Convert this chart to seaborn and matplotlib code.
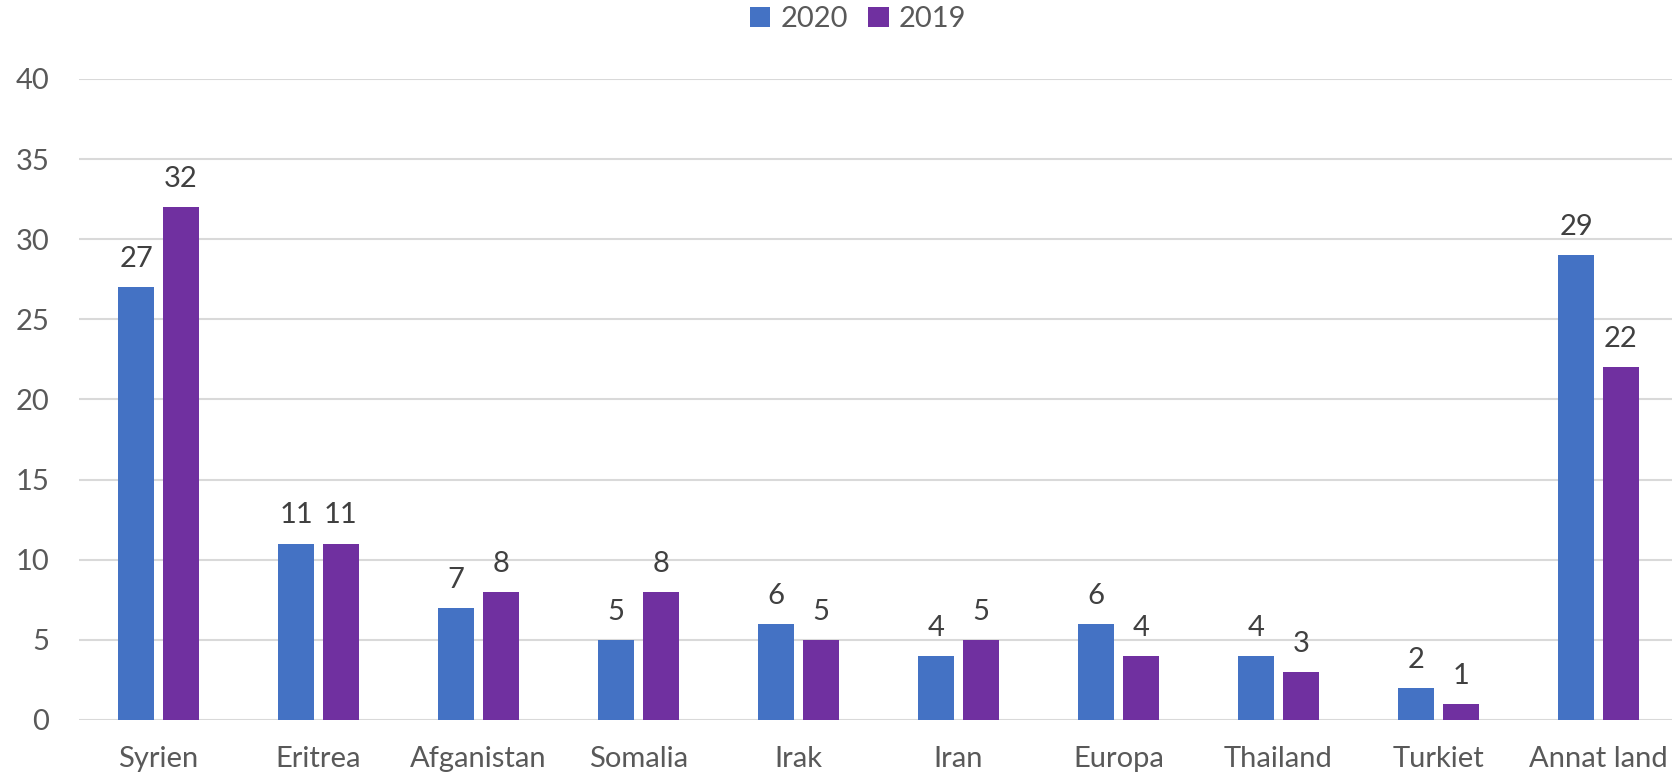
import matplotlib
matplotlib.use("Agg")
import matplotlib.pyplot as plt
import seaborn as sns
import pandas as pd

categories = ["Syrien", "Eritrea", "Afganistan", "Somalia", "Irak", "Iran",
              "Europa", "Thailand", "Turkiet", "Annat land"]
values_2020 = [27, 11, 7, 5, 6, 4, 6, 4, 2, 29]
values_2019 = [32, 11, 8, 8, 5, 5, 4, 3, 1, 22]
series = ["2020", "2019"]
y_ticks = [0, 5, 10, 15, 20, 25, 30, 35, 40]

sns.set_theme(style="white")
plt.rcParams['font.family'] = ['Lato', 'DejaVu Sans']

df = pd.DataFrame({
    "Land": categories * 2,
    "År": [series[0]] * len(categories) + [series[1]] * len(categories),
    "Antal": values_2020 + values_2019,
})

fig = plt.figure(figsize=(16.72, 7.77), dpi=100)
ax = fig.add_axes([78.5 / 1672, 1 - 720 / 777, 1 - 78.5 / 1672, (720 - 79) / 777])

sns.barplot(data=df, x="Land", y="Antal", hue="År", hue_order=series,
            order=categories, palette=["#4472C4", "#7030A0"],
            width=0.56, gap=0.196, ax=ax, legend=True, saturation=1,
            linewidth=0)

fs = 21
ax.set_ylim(0, 40)
ax.set_xlim(-0.5, 9.46)
ax.set_yticks(y_ticks)
ax.yaxis.grid(True, color="#D9D9D9", linewidth=1.5)
ax.set_axisbelow(True)
for s in ax.spines.values():
    s.set_visible(False)
ax.set_xlabel("")
ax.set_ylabel("")
ax.tick_params(axis="y", labelsize=fs, colors="#595959", length=0, pad=21)
ax.tick_params(axis="x", labelsize=fs, colors="#595959", length=0, pad=19)

for c in ax.containers:
    ax.bar_label(c, fmt="%d", padding=11, fontsize=fs, color="#404040")

handles, labels = ax.get_legend_handles_labels()
ax.legend_.remove()
fig.legend(handles, labels, loc="center", bbox_to_anchor=(858 / 1672, 1 - 19 / 777),
           ncol=2, frameon=False, fontsize=fs, labelcolor="#595959",
           handlelength=0.7, handleheight=0.7, handletextpad=0.35,
           columnspacing=0.7)

fig.savefig("out.png", dpi=100)
